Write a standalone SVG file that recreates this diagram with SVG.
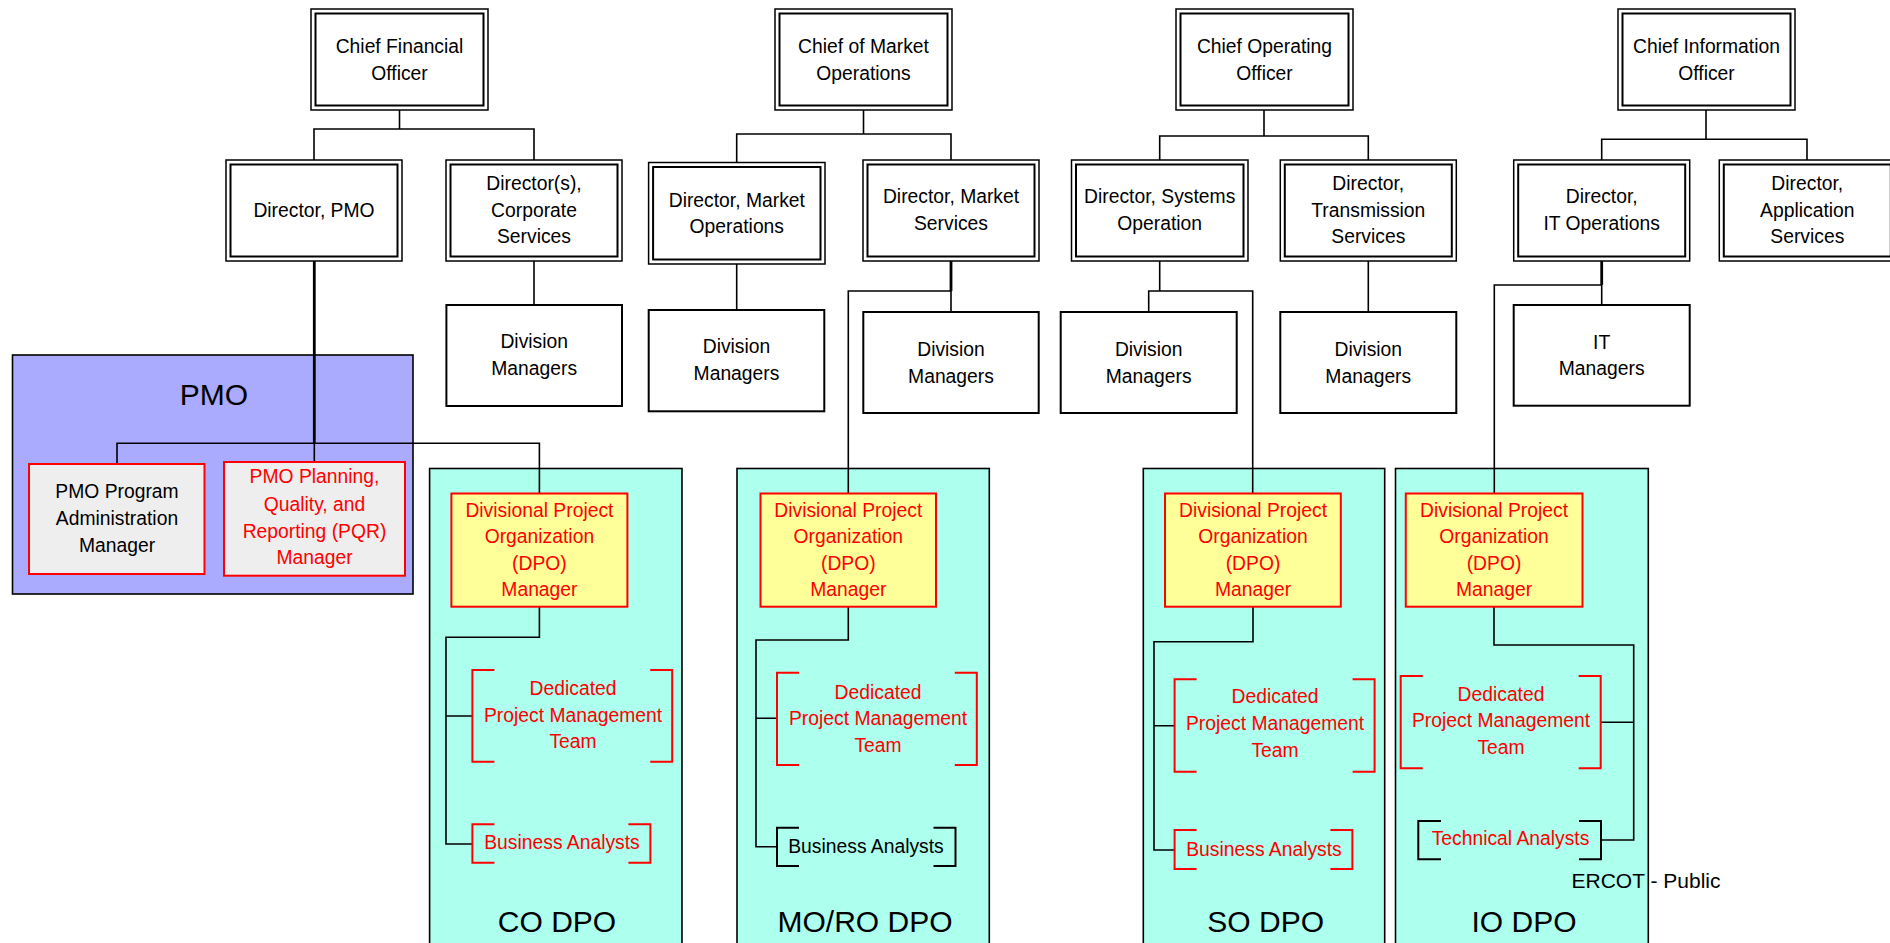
<svg xmlns="http://www.w3.org/2000/svg" width="1890" height="943" viewBox="0 0 1890 943">
<style>
.t{font-family:"Liberation Sans",Arial,sans-serif;font-size:21px;text-anchor:middle;fill:#000;transform-box:fill-box;transform-origin:center;transform:scaleX(0.92)}
.r{fill:#FF0000}
.big{font-family:"Liberation Sans",Arial,sans-serif;font-size:30px;text-anchor:middle;fill:#000}
.foot{font-family:"Liberation Sans",Arial,sans-serif;font-size:21px;fill:#000}
.o{fill:#fff;stroke:#000;stroke-width:1.5}
.i{fill:none;stroke:#000;stroke-width:2}
.s{fill:#fff;stroke:#000;stroke-width:2}
.ln{fill:none;stroke:#000;stroke-width:1.6;stroke-linejoin:miter}
.thick{fill:none;stroke:#000;stroke-width:2.8}
.panel{fill:#ADFFEE;stroke:#000;stroke-width:1.6}
.pmo{fill:#AAAAFF;stroke:#000;stroke-width:1.6}
.dpo{fill:#FFFF99;stroke:#FF0000;stroke-width:2}
.grey{fill:#EEEEEE;stroke:#FF0000;stroke-width:2}
.brR{fill:none;stroke:#FF0000;stroke-width:2}
.brK{fill:none;stroke:#000;stroke-width:2}
</style>
<rect x="0" y="0" width="1890" height="943" fill="#fff"/>

<!-- containers -->
<g id="pmo-panel">
<rect class="pmo" x="12.5" y="355" width="400.5" height="239"/>
<text class="big" x="214" y="405">PMO</text>
</g>
<g id="co-dpo-panel">
<rect class="panel" x="429.6" y="468.5" width="252.4" height="500"/>
<text class="big" x="557" y="931.5">CO DPO</text>
</g>
<g id="mo-dpo-panel">
<rect class="panel" x="737" y="468.5" width="252.3" height="500"/>
<text class="big" x="865" y="931.5">MO/RO DPO</text>
</g>
<g id="so-dpo-panel">
<rect class="panel" x="1143.3" y="468.5" width="241.4" height="500"/>
<text class="big" x="1265.7" y="931.5">SO DPO</text>
</g>
<g id="io-dpo-panel">
<rect class="panel" x="1395.5" y="468.5" width="252.8" height="500"/>
<text class="big" x="1524" y="931.5">IO DPO</text>
</g>

<!-- connectors -->
<g id="connectors">
<path class="ln" d="M314 160 V129 H534 V160 M399.5 110 V129"/>
<path class="ln" d="M736.7 162.5 V134 H951 V160 M863.5 110 V134"/>
<path class="ln" d="M1159.7 160 V136 H1368.3 V160 M1264 110 V136"/>
<path class="ln" d="M1601.7 160 V139.3 H1807 V160 M1706 110 V139.3"/>
<path class="thick" d="M314.3 261 V443.3"/>
<path class="ln" d="M314.3 443.3 V462 M117 464 V443.3 H539.4 V493.5"/>
<path class="ln" d="M534 261 V305"/>
<path class="ln" d="M736.7 264 V310"/>
<path class="thick" d="M951 261 V291"/>
<path class="ln" d="M951 291 V312 M951 291 H848.3 V493.5"/>
<path class="ln" d="M1159.7 261 V291 M1148.7 312 V291 H1252.7 V493.5"/>
<path class="ln" d="M1368.3 261 V312"/>
<path class="thick" d="M1601.7 261 V285"/>
<path class="ln" d="M1601.7 285 V305 M1601.7 285 H1494.3 V493.5"/>
<path class="ln" d="M539.4 606.7 V637.3 H446 V844 H472.4 M446 716 H472.4"/>
<path class="ln" d="M848.3 606.7 V640 H756 V846.7 H777 M756 718.3 H777"/>
<path class="ln" d="M1253 606.7 V641.7 H1154 V850 H1174.6 M1154 725.7 H1174.6"/>
<path class="ln" d="M1494 606.7 V645 H1633.7 V840 H1601 M1633.7 722.3 H1600.7"/>
</g>

<!-- top executives -->
<g id="cfo">
<rect class="o" x="311" y="9" width="177" height="101"/><rect class="i" x="315.5" y="13.5" width="168" height="92"/>
<text class="t"><tspan x="399.5" y="53">Chief Financial</tspan><tspan x="399.5" y="80">Officer</tspan></text>
</g>
<g id="cmo">
<rect class="o" x="775" y="9" width="177" height="101"/><rect class="i" x="779.5" y="13.5" width="168" height="92"/>
<text class="t"><tspan x="863.5" y="53">Chief of Market</tspan><tspan x="863.5" y="80">Operations</tspan></text>
</g>
<g id="coo">
<rect class="o" x="1176" y="9" width="177" height="101"/><rect class="i" x="1180.5" y="13.5" width="168" height="92"/>
<text class="t"><tspan x="1264.5" y="53">Chief Operating</tspan><tspan x="1264.5" y="80">Officer</tspan></text>
</g>
<g id="cio">
<rect class="o" x="1618" y="9" width="177" height="101"/><rect class="i" x="1622.5" y="13.5" width="168" height="92"/>
<text class="t"><tspan x="1706.5" y="53">Chief Information</tspan><tspan x="1706.5" y="80">Officer</tspan></text>
</g>

<!-- directors -->
<g id="dir-pmo">
<rect class="o" x="226" y="160" width="176" height="101"/><rect class="i" x="230.5" y="164.5" width="167" height="92"/>
<text class="t" x="314" y="216.7">Director, PMO</text>
</g>
<g id="dir-corp">
<rect class="o" x="446" y="160" width="176" height="101"/><rect class="i" x="450.5" y="164.5" width="167" height="92"/>
<text class="t"><tspan x="534" y="190">Director(s),</tspan><tspan x="534" y="216.7">Corporate</tspan><tspan x="534" y="243.3">Services</tspan></text>
</g>
<g id="dir-mo">
<rect class="o" x="648.6" y="162.5" width="176.4" height="101.5"/><rect class="i" x="653.1" y="167" width="167.4" height="92.5"/>
<text class="t"><tspan x="736.8" y="206.7">Director, Market</tspan><tspan x="736.8" y="233">Operations</tspan></text>
</g>
<g id="dir-ms">
<rect class="o" x="863" y="160" width="176" height="101"/><rect class="i" x="867.5" y="164.5" width="167" height="92"/>
<text class="t"><tspan x="951" y="203.3">Director, Market</tspan><tspan x="951" y="230">Services</tspan></text>
</g>
<g id="dir-so">
<rect class="o" x="1071.5" y="160" width="176.5" height="101"/><rect class="i" x="1076" y="164.5" width="167.5" height="92"/>
<text class="t"><tspan x="1159.7" y="203.3">Director, Systems</tspan><tspan x="1159.7" y="230">Operation</tspan></text>
</g>
<g id="dir-ts">
<rect class="o" x="1280.3" y="160" width="176" height="101"/><rect class="i" x="1284.8" y="164.5" width="167" height="92"/>
<text class="t"><tspan x="1368.3" y="190">Director,</tspan><tspan x="1368.3" y="216.7">Transmission</tspan><tspan x="1368.3" y="243.3">Services</tspan></text>
</g>
<g id="dir-it">
<rect class="o" x="1513.7" y="160" width="176" height="101"/><rect class="i" x="1518.2" y="164.5" width="167" height="92"/>
<text class="t"><tspan x="1601.7" y="203.3">Director,</tspan><tspan x="1601.7" y="230">IT Operations</tspan></text>
</g>
<g id="dir-app">
<rect class="o" x="1719.3" y="160" width="176" height="101"/><rect class="i" x="1723.8" y="164.5" width="167" height="92"/>
<text class="t"><tspan x="1807.3" y="190">Director,</tspan><tspan x="1807.3" y="216.7">Application</tspan><tspan x="1807.3" y="243.3">Services</tspan></text>
</g>

<!-- managers -->
<g id="dm-corp">
<rect class="s" x="446.4" y="305" width="175.6" height="101"/>
<text class="t"><tspan x="534.2" y="348.3">Division</tspan><tspan x="534.2" y="375">Managers</tspan></text>
</g>
<g id="dm-mo">
<rect class="s" x="648.7" y="310" width="175.6" height="101.3"/>
<text class="t"><tspan x="736.5" y="353.3">Division</tspan><tspan x="736.5" y="380.5">Managers</tspan></text>
</g>
<g id="dm-ms">
<rect class="s" x="863.3" y="312" width="175.4" height="101"/>
<text class="t"><tspan x="951" y="356">Division</tspan><tspan x="951" y="382.7">Managers</tspan></text>
</g>
<g id="dm-so">
<rect class="s" x="1060.7" y="312" width="176" height="101"/>
<text class="t"><tspan x="1148.7" y="356">Division</tspan><tspan x="1148.7" y="382.7">Managers</tspan></text>
</g>
<g id="dm-ts">
<rect class="s" x="1280.3" y="312" width="176" height="101"/>
<text class="t"><tspan x="1368.3" y="356">Division</tspan><tspan x="1368.3" y="382.7">Managers</tspan></text>
</g>
<g id="it-managers">
<rect class="s" x="1513.7" y="305" width="176" height="100.7"/>
<text class="t"><tspan x="1601.7" y="349">IT</tspan><tspan x="1601.7" y="375">Managers</tspan></text>
</g>

<!-- PMO members -->
<g id="pmo-admin">
<rect class="grey" x="29" y="464" width="175.5" height="110"/>
<text class="t"><tspan x="117" y="498">PMO Program</tspan><tspan x="117" y="525">Administration</tspan><tspan x="117" y="551.7">Manager</tspan></text>
</g>
<g id="pmo-pqr">
<rect class="grey" x="224" y="462" width="181" height="113.7"/>
<text class="t r"><tspan x="314.5" y="483.3">PMO Planning,</tspan><tspan x="314.5" y="511">Quality, and</tspan><tspan x="314.5" y="537.7">Reporting (PQR)</tspan><tspan x="314.5" y="564.3">Manager</tspan></text>
</g>

<!-- DPO managers -->
<g id="co-dpo-mgr">
<rect class="dpo" x="451.4" y="493.5" width="176" height="113.2"/>
<text class="t r"><tspan x="539.4" y="517">Divisional Project</tspan><tspan x="539.4" y="543.5">Organization</tspan><tspan x="539.4" y="570">(DPO)</tspan><tspan x="539.4" y="596.5">Manager</tspan></text>
</g>
<g id="mo-dpo-mgr">
<rect class="dpo" x="760.5" y="493.5" width="175.5" height="113.2"/>
<text class="t r"><tspan x="848.3" y="517">Divisional Project</tspan><tspan x="848.3" y="543.5">Organization</tspan><tspan x="848.3" y="570">(DPO)</tspan><tspan x="848.3" y="596.5">Manager</tspan></text>
</g>
<g id="so-dpo-mgr">
<rect class="dpo" x="1165" y="493.5" width="175.8" height="113.2"/>
<text class="t r"><tspan x="1253" y="517">Divisional Project</tspan><tspan x="1253" y="543.5">Organization</tspan><tspan x="1253" y="570">(DPO)</tspan><tspan x="1253" y="596.5">Manager</tspan></text>
</g>
<g id="io-dpo-mgr">
<rect class="dpo" x="1405.8" y="493.5" width="176.7" height="113.2"/>
<text class="t r"><tspan x="1494" y="517">Divisional Project</tspan><tspan x="1494" y="543.5">Organization</tspan><tspan x="1494" y="570">(DPO)</tspan><tspan x="1494" y="596.5">Manager</tspan></text>
</g>

<!-- teams -->
<g id="co-pm-team">
<path class="brR" d="M494.4 670 H472.4 V761.7 H494.4 M650.2 670 H672.2 V761.7 H650.2"/>
<text class="t r"><tspan x="573" y="695">Dedicated</tspan><tspan x="573" y="722">Project Management</tspan><tspan x="573" y="748.3">Team</tspan></text>
</g>
<g id="co-ba">
<path class="brR" d="M494.4 824.3 H472.4 V862.7 H494.4 M628.4 824.3 H650.4 V862.7 H628.4"/>
<text class="t r" x="562" y="849">Business Analysts</text>
</g>
<g id="mo-pm-team">
<path class="brR" d="M799 672.7 H777 V765 H799 M954.8 672.7 H976.8 V765 H954.8"/>
<text class="t r"><tspan x="878" y="698.7">Dedicated</tspan><tspan x="878" y="725.5">Project Management</tspan><tspan x="878" y="751.7">Team</tspan></text>
</g>
<g id="mo-ba">
<path class="brK" d="M799 827.7 H777 V866 H799 M933.5 827.7 H955.5 V866 H933.5"/>
<text class="t" x="866" y="853.3">Business Analysts</text>
</g>
<g id="so-pm-team">
<path class="brR" d="M1196.6 679.3 H1174.6 V771.7 H1196.6 M1352.6 679.3 H1374.6 V771.7 H1352.6"/>
<text class="t r"><tspan x="1275" y="703.3">Dedicated</tspan><tspan x="1275" y="730.3">Project Management</tspan><tspan x="1275" y="756.7">Team</tspan></text>
</g>
<g id="so-ba">
<path class="brR" d="M1196.6 830 H1174.6 V869 H1196.6 M1330.4 830 H1352.4 V869 H1330.4"/>
<text class="t r" x="1264" y="856">Business Analysts</text>
</g>
<g id="io-pm-team">
<path class="brR" d="M1422.7 676 H1400.7 V768.3 H1422.7 M1578.7 676 H1600.7 V768.3 H1578.7"/>
<text class="t r"><tspan x="1501" y="700.7">Dedicated</tspan><tspan x="1501" y="727.3">Project Management</tspan><tspan x="1501" y="754">Team</tspan></text>
</g>
<g id="io-ta">
<path class="brK" d="M1441 821 H1418.3 V859.3 H1441 M1579 821 H1601 V859.3 H1579"/>
<text class="t r" x="1510.5" y="845">Technical Analysts</text>
</g>

<text class="foot" x="1571.5" y="887.5">ERCOT - Public</text>
</svg>
